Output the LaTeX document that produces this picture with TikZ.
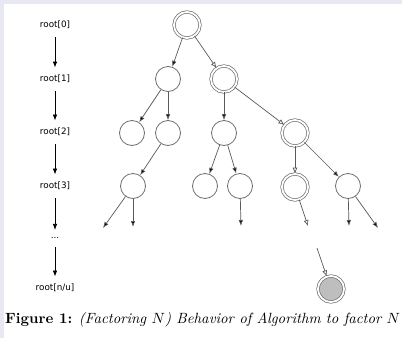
\documentclass[tikz,border=0pt]{standalone}
\usepackage{graphicx}
\usepackage{fontspec}
\newfontfamily\labfont{DejaVu Sans}
\usetikzlibrary{arrows.meta}
\definecolor{circ}{HTML}{6E6E6E}
\definecolor{edgec}{HTML}{5A5A5A}
\definecolor{bgc}{HTML}{E8E8F2}
\definecolor{fillg}{HTML}{BEBEBE}
\begin{document}
\begin{tikzpicture}[x=1pt,y=-1pt,
  st/.style={circle,draw=circ,line width=0.8pt,minimum size=25pt,inner sep=0pt},
  dst/.style={circle,draw=circ,line width=0.7pt,double=white,double distance=1.8pt,minimum size=26pt,inner sep=0pt},
  ed/.style={draw=edgec,line width=0.7pt,-{Latex[length=6pt,width=4.5pt,fill=black]}},
  oed/.style={draw=edgec,line width=0.7pt,-{Latex[open,length=6pt,width=5pt,fill=white]}},
  lab/.style={font=\labfont\fontsize{8.8}{10}\selectfont},
  lar/.style={draw=black,line width=0.7pt,shorten <=5pt,shorten >=4pt,-{Latex[length=6pt,width=4.5pt]}}]
\fill[bgc] (0,0) rectangle (402,338);
\fill[white] (4,4) rectangle (402,338);
\useasboundingbox (0,0) rectangle (402,338);
% left labels
\node[lab] (l0) at (55,25) {root[0]};
\node[lab] (l1) at (55,79) {root[1]};
\node[lab] (l2) at (55,132) {root[2]};
\node[lab] (l3) at (55,186) {root[3]};
\node[lab] (l4) at (55,238) {...};
\node[lab] (l5) at (55,288) {root[n/u]};
\draw[lar] (l0) -- (l1);
\draw[lar] (l1) -- (l2);
\draw[lar] (l2) -- (l3);
\draw[lar] (l3) -- (l4);
\draw[lar] (l4) -- (l5);
% tree
\node[dst] (r0) at (187,25) {};
\node[st] (a) at (168,79) {};
\node[dst] (b) at (224,79) {};
\node[st] (c1) at (132,133) {};
\node[st] (c2) at (168,133) {};
\node[st] (c3) at (224,133) {};
\node[dst] (c4) at (295,133) {};
\node[st] (d1) at (133,186) {};
\node[st] (d2) at (205,186) {};
\node[st] (d3) at (240,186) {};
\node[dst] (d4) at (295,187) {};
\node[st] (d5) at (348,186) {};
\node[dst,fill=fillg] (f) at (331,289) {};
\coordinate (e1) at (103,228);
\coordinate (e2) at (133,227);
\coordinate (e3) at (241,226);
\coordinate (e4) at (308,226);
\coordinate (e5) at (349,226);
\coordinate (e6) at (378,228);
\coordinate (s7) at (317,248);
\draw[ed] (r0) -- (a);
\draw[oed] (r0) -- (b);
\draw[ed] (a) -- (c1);
\draw[ed] (a) -- (c2);
\draw[ed] (b) -- (c3);
\draw[oed] (b) -- (c4);
\draw[ed] (c2) -- (d1);
\draw[ed] (c3) -- (d2);
\draw[ed] (c3) -- (d3);
\draw[oed] (c4) -- (d4);
\draw[ed] (c4) -- (d5);
\draw[ed] (d1) -- (e1);
\draw[ed] (d1) -- (e2);
\draw[ed] (d3) -- (e3);
\draw[oed] (d4) -- (e4);
\draw[ed] (d5) -- (e5);
\draw[ed] (d5) -- (e6);
\draw[oed] (s7) -- (f);
% caption
\node[anchor=west,inner sep=0pt] (cap) at (5,320) {\resizebox{395pt}{!}{\textbf{Figure 1:} \textit{(Factoring $N$) Behavior of Algorithm to factor $N$}}};
\end{tikzpicture}
\end{document}
